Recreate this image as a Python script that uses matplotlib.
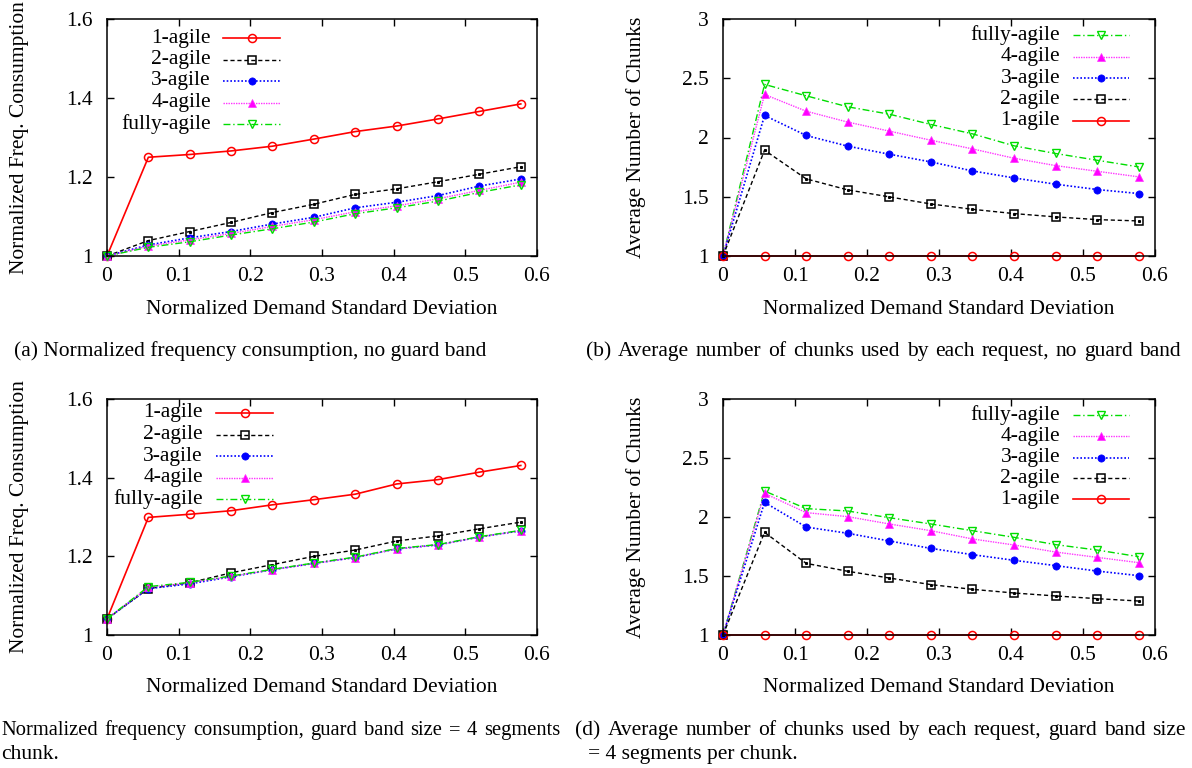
import matplotlib
matplotlib.use("Agg")
import matplotlib.pyplot as plt
from matplotlib.lines import Line2D
from matplotlib.ticker import FixedLocator, FixedFormatter

plt.rcParams['font.family'] = ['Liberation Serif', 'DejaVu Serif']
plt.rcParams['mathtext.fontset'] = 'stix'

W, H = 1192, 768

# ---------------- data ----------------
x_sd = [0.0, 0.0577, 0.1155, 0.1732, 0.2309, 0.2887, 0.3464, 0.4041, 0.4619, 0.5196, 0.5774]

series_names = ['1-agile', '2-agile', '3-agile', '4-agile', 'fully-agile']

freq_nogb_1 = [1.000, 1.250, 1.257, 1.266, 1.278, 1.296, 1.315, 1.329, 1.347, 1.366, 1.385]
freq_nogb_2 = [1.000, 1.039, 1.062, 1.085, 1.110, 1.131, 1.156, 1.170, 1.188, 1.207, 1.226]
freq_nogb_3 = [1.000, 1.028, 1.046, 1.062, 1.081, 1.098, 1.122, 1.136, 1.153, 1.177, 1.195]
freq_nogb_4 = [1.000, 1.025, 1.041, 1.057, 1.075, 1.092, 1.112, 1.127, 1.145, 1.166, 1.187]
freq_nogb_f = [1.000, 1.022, 1.036, 1.053, 1.069, 1.086, 1.107, 1.122, 1.139, 1.161, 1.180]

chunks_nogb_1 = [1.000, 1.000, 1.000, 1.000, 1.000, 1.000, 1.000, 1.000, 1.000, 1.000, 1.000]
chunks_nogb_2 = [1.000, 1.893, 1.651, 1.558, 1.499, 1.439, 1.394, 1.358, 1.330, 1.307, 1.296]
chunks_nogb_3 = [1.000, 2.186, 2.017, 1.927, 1.859, 1.794, 1.718, 1.659, 1.606, 1.561, 1.527]
chunks_nogb_4 = [1.000, 2.363, 2.222, 2.130, 2.054, 1.977, 1.904, 1.825, 1.763, 1.715, 1.668]
chunks_nogb_f = [1.000, 2.448, 2.352, 2.259, 2.197, 2.110, 2.031, 1.930, 1.865, 1.808, 1.752]

freq_gb_1 = [1.041, 1.299, 1.307, 1.316, 1.331, 1.344, 1.358, 1.384, 1.395, 1.414, 1.431]
freq_gb_2 = [1.041, 1.118, 1.133, 1.158, 1.179, 1.200, 1.216, 1.239, 1.252, 1.270, 1.287]
freq_gb_3 = [1.041, 1.118, 1.130, 1.148, 1.166, 1.182, 1.197, 1.219, 1.229, 1.249, 1.265]
freq_gb_4 = [1.041, 1.121, 1.133, 1.149, 1.166, 1.182, 1.197, 1.219, 1.229, 1.249, 1.265]
freq_gb_f = [1.041, 1.123, 1.134, 1.150, 1.167, 1.183, 1.198, 1.220, 1.230, 1.250, 1.266]

chunks_gb_1 = [1.000, 1.000, 1.000, 1.000, 1.000, 1.000, 1.000, 1.000, 1.000, 1.000, 1.000]
chunks_gb_2 = [1.000, 1.870, 1.607, 1.540, 1.483, 1.427, 1.387, 1.356, 1.331, 1.308, 1.288]
chunks_gb_3 = [1.000, 2.124, 1.915, 1.862, 1.797, 1.734, 1.681, 1.633, 1.588, 1.542, 1.503]
chunks_gb_4 = [1.000, 2.200, 2.037, 2.003, 1.941, 1.884, 1.814, 1.763, 1.703, 1.658, 1.613]
chunks_gb_f = [1.000, 2.220, 2.071, 2.051, 1.994, 1.941, 1.884, 1.828, 1.766, 1.720, 1.664]

x_ticks = [0, 0.1, 0.2, 0.3, 0.4, 0.5, 0.6]
x_ticklabels = ['0', '0.1', '0.2', '0.3', '0.4', '0.5', '0.6']
freq_ticks = [1.0, 1.2, 1.4, 1.6]
freq_ticklabels = ['1', '1.2', '1.4', '1.6']
chunk_ticks = [1.0, 1.5, 2.0, 2.5, 3.0]
chunk_ticklabels = ['1', '1.5', '2', '2.5', '3']

xlabel = 'Normalized Demand Standard Deviation'
ylabel_freq = 'Normalized Freq. Consumption'
ylabel_chunks = 'Average Number of Chunks'

caption_a = '(a) Normalized frequency consumption, no guard band'
caption_b = '(b) Average number of chunks used by each request, no guard band'
caption_c1 = 'Normalized frequency consumption, guard band size = 4 segments'
caption_c2 = 'chunk.'
caption_d1 = '(d) Average number of chunks used by each request, guard band size'
caption_d2 = '= 4 segments per chunk.'

# ---------------- styles ----------------
styles = {
    '1-agile': dict(color='#ff0000', lw=1.2, ls='-', marker='o', ms=5.8, mfc='none', mew=1.1),
    '2-agile': dict(color='#000000', lw=1.0, ls=(0, (3, 2)), marker='s', ms=5.8, mfc='none', mew=1.1),
    '3-agile': dict(color='#0000ff', lw=1.2, ls=(0, (1, 1.2)), marker='o', ms=5.2, mfc='#0000ff', mew=0.5),
    '4-agile': dict(color='#ff33ff', lw=1.0, ls=(0, (1, 0.8)), marker='^', ms=5.2, mfc='#ff00ff', mew=0.5),
    'fully-agile': dict(color='#00dd00', lw=1.0, ls=(0, (5, 2, 1, 2)), marker='v', ms=6.2, mfc='none', mew=1.0),
}

fig = plt.figure(figsize=(W / 100, H / 100), dpi=100)


def px_axes(l, t, r, b):
    return fig.add_axes([l / W, 1 - b / H, (r - l) / W, (b - t) / H])


def style_axes(ax, yticks, yticklabels, ylim, ylabel):
    ax.set_xlim(0, 0.6)
    ax.set_ylim(*ylim)
    ax.xaxis.set_major_locator(FixedLocator(x_ticks))
    ax.xaxis.set_major_formatter(FixedFormatter(x_ticklabels))
    ax.yaxis.set_major_locator(FixedLocator(yticks))
    ax.yaxis.set_major_formatter(FixedFormatter(yticklabels))
    ax.tick_params(direction='in', length=5, width=1.0, top=True, right=True,
                   labelsize=15.5, colors='black')
    ax.tick_params(axis='x', pad=8)
    ax.tick_params(axis='y', pad=10)
    for s in ax.spines.values():
        s.set_linewidth(1.1)
    ax.set_xlabel(xlabel, fontsize=15.5, va='center')
    ax.set_ylabel(ylabel, fontsize=15.5, va='center')


def draw_panel(ax, data, order):
    lines = {}
    for name in order:
        st = styles[name]
        ln, = ax.plot(x_sd, data[name], color=st['color'], lw=st['lw'], ls=st['ls'],
                      marker=st['marker'], ms=st['ms'], mfc=st['mfc'], mec=st['color'],
                      mew=st['mew'], clip_on=False, label=name)
        if name == '2-agile':
            ax.plot(x_sd, data[name], ls='none', marker='s', ms=1.2, color='black',
                    clip_on=False)
        lines[name] = ln
    return lines


def manual_legend(order, text_right, line_l, line_r, rows):
    for name, y in zip(order, rows):
        st = styles[name]
        yf = 1 - y / H
        xm = (line_l + line_r) / 2
        fig.add_artist(Line2D([line_l / W, xm / W, line_r / W], [yf, yf, yf],
                              transform=fig.transFigure, color=st['color'], lw=st['lw'],
                              ls=st['ls'], marker=st['marker'], ms=st['ms'], mfc=st['mfc'],
                              mec=st['color'], mew=st['mew'], markevery=[1]))
        fig.text(text_right / W, yf, name, ha='right', va='center', fontsize=15.5)


# panel geometry (pixels): left, top, right, bottom
ax_a = px_axes(107, 19, 537, 256)
ax_b = px_axes(723, 19, 1155, 256)
ax_c = px_axes(107, 399, 537, 635)
ax_d = px_axes(723, 399, 1155, 635)

data_a = {'1-agile': freq_nogb_1, '2-agile': freq_nogb_2, '3-agile': freq_nogb_3,
          '4-agile': freq_nogb_4, 'fully-agile': freq_nogb_f}
data_b = {'1-agile': chunks_nogb_1, '2-agile': chunks_nogb_2, '3-agile': chunks_nogb_3,
          '4-agile': chunks_nogb_4, 'fully-agile': chunks_nogb_f}
data_c = {'1-agile': freq_gb_1, '2-agile': freq_gb_2, '3-agile': freq_gb_3,
          '4-agile': freq_gb_4, 'fully-agile': freq_gb_f}
data_d = {'1-agile': chunks_gb_1, '2-agile': chunks_gb_2, '3-agile': chunks_gb_3,
          '4-agile': chunks_gb_4, 'fully-agile': chunks_gb_f}

order_up = series_names
order_down = series_names[::-1]

for ax, data, order, yt, ytl, ylim, yl in [
        (ax_a, data_a, order_up, freq_ticks, freq_ticklabels, (1.0, 1.6), ylabel_freq),
        (ax_b, data_b, order_down, chunk_ticks, chunk_ticklabels, (1.0, 3.0), ylabel_chunks),
        (ax_c, data_c, order_up, freq_ticks, freq_ticklabels, (1.0, 1.6), ylabel_freq),
        (ax_d, data_d, order_down, chunk_ticks, chunk_ticklabels, (1.0, 3.0), ylabel_chunks)]:
    style_axes(ax, yt, ytl, ylim, yl)
    draw_panel(ax, data, order)
    ax.xaxis.set_label_coords(0.5, -53 / 237)
    ax.yaxis.set_label_coords(-87 / 430, 0.5)

manual_legend(order_up, 211, 223, 280, [38, 59.5, 81, 102.5, 124])
manual_legend(order_down, 1060, 1073, 1129, [35, 56.7, 78.3, 99.3, 120.7])
manual_legend(order_up, 203, 216, 273, [413, 434.5, 456, 477.5, 499])
manual_legend(order_down, 1060, 1073, 1129, [415, 436, 457.7, 478, 499.3])

# ---------------- captions ----------------
renderer = fig.canvas.get_renderer()
CAP_FS = 15.5


def justify(text, x0, x1, y_base, fs=CAP_FS):
    words = text.split(' ')
    objs = [fig.text(0, 1 - y_base / H, w, ha='left', va='baseline', fontsize=fs)
            for w in words]
    widths = [o.get_window_extent(renderer).width for o in objs]
    gap = (x1 - x0 - sum(widths)) / max(len(objs) - 1, 1)
    x = x0
    for o, w in zip(objs, widths):
        o.set_x(x / W)
        x += w + gap


fig.text(250 / W, 1 - 356 / H, caption_a, ha='center', va='baseline', fontsize=CAP_FS)
justify(caption_b, 586, 1181, 356)
justify(caption_c1, 1, 560, 735, fs=14.8)
fig.text(1 / W, 1 - 759 / H, caption_c2, ha='left', va='baseline', fontsize=CAP_FS)
justify(caption_d1, 575, 1186, 735)
fig.text(588 / W, 1 - 759 / H, caption_d2, ha='left', va='baseline', fontsize=CAP_FS)

fig.savefig('out.png', dpi=100)
